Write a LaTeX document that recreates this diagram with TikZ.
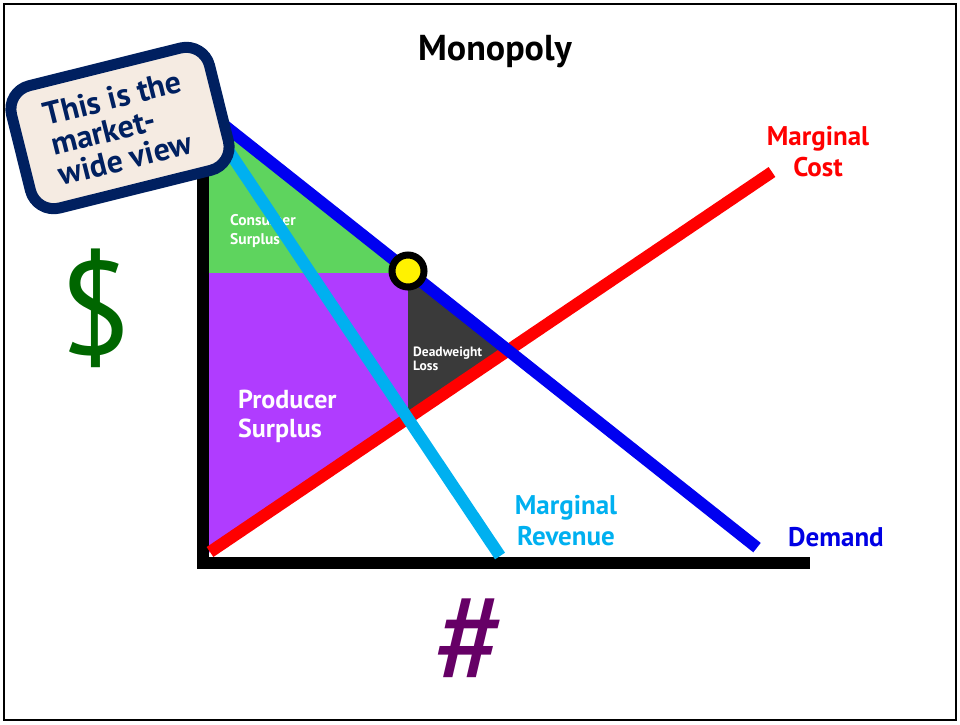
\documentclass[tikz,border=0pt]{standalone}
\usepackage{fontspec}
\setmainfont{PT Sans}
\definecolor{csgreen}{RGB}{94,212,94}
\definecolor{pspurple}{RGB}{176,60,255}
\definecolor{dwlgray}{RGB}{58,58,58}
\definecolor{dblue}{RGB}{0,0,240}
\definecolor{mrcyan}{RGB}{0,176,240}
\definecolor{mcred}{RGB}{255,0,0}
\definecolor{dollar}{RGB}{0,102,0}
\definecolor{hashp}{RGB}{102,0,102}
\definecolor{navy}{RGB}{0,32,96}
\definecolor{linen}{RGB}{245,235,226}
\tikzset{
  curve/.style={line width=12pt},
  lbl/.style={inner sep=0pt, font=\bfseries\fontsize{27}{31}\selectfont},
  inlbl/.style={inner sep=0pt, align=left, text=white}
}
\begin{document}
\begin{tikzpicture}[x=1pt, y=-1pt, line join=miter]
\useasboundingbox (0,0) rectangle (960,724);
% Khung ngoài
\draw[line width=2pt] (4,4) rectangle (956,720);
% Các điểm mút của ba đường
\coordinate (dA) at (215,118);
\coordinate (dB) at (757,547.6);
\coordinate (rA) at (218,135);
\coordinate (rB) at (500,556);
\coordinate (cA) at (210,552);
\coordinate (cB) at (772,172);
% Thặng dư tiêu dùng, sản xuất và tổn thất
\fill[csgreen] (209,113.2) -- (410.5,273) -- (209,273) -- cycle;
\fill[pspurple] (209,273) -- (408,273) -- (408,418.1) -- (209,552.7) -- cycle;
\fill[dwlgray] (408,272) -- (408,418.1) -- (508.2,350.4) -- cycle;
% Hai trục
\draw[line width=12pt] (203,120) -- (203,563) -- (810,563);
% Nhãn trong các vùng
\node[inlbl, anchor=north west, font=\bfseries\fontsize{15.5}{19}\selectfont] (cs) at (230,214) {Consumer\\Surplus};
\node[inlbl, anchor=north west, font=\bfseries\fontsize{26}{29}\selectfont] (ps) at (238,390) {Producer\\Surplus};
\node[inlbl, anchor=north west, font=\bfseries\fontsize{13.5}{11}\selectfont] (dwl) at (413,347) {Deadweight\\Loss};
% Ba đường MC, MR, cầu
\draw[curve, mcred] (cA) -- (cB);
\draw[curve, mrcyan] (rA) -- (rB);
\draw[curve, dblue] (dA) -- (dB);
% Điểm độc quyền
\node[circle, fill=yellow, draw=black, line width=7pt, minimum size=32pt, inner sep=0pt] (mono) at (408,271) {};
% Tên các đường
\node[lbl, text=mcred, align=center, anchor=north] (mclbl) at (818,126) {Marginal\\Cost};
\node[lbl, text=mrcyan, align=center, anchor=north] (mrlbl) at (566,495) {Marginal\\Revenue};
\node[lbl, text=dblue!95!black, anchor=base west] (dlbl) at (788,546) {Demand};
% Tiêu đề và trục
\node[inner sep=0pt, anchor=base, font=\bfseries\fontsize{36}{40}\selectfont] (title) at (495,60) {Monopoly};
\node[inner sep=0pt, text=dollar, font=\fontsize{132}{136}\selectfont] (ylbl) at (95,308) {\$};
\node[inner sep=0pt, text=hashp, font=\fontsize{135}{140}\selectfont] (xlbl) at (471,642) {\#};
% Ghi chú
\node[rounded corners=24pt, draw=navy, fill=linen, line width=11pt, rotate=14,
  minimum width=204pt, minimum height=126pt, align=left, text=navy,
  font=\bfseries\fontsize{32}{31}\selectfont] (note) at (120,128) {This is the\\market-\\wide view};
\end{tikzpicture}
\end{document}
